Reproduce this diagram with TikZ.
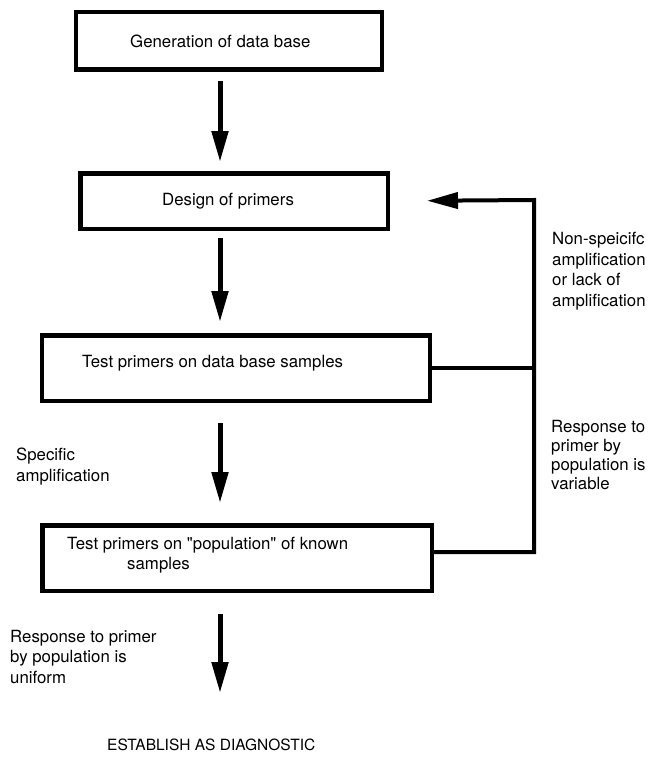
\documentclass[tikz,border=0pt]{standalone}
\usepackage{fontspec}
\setmainfont{TeX Gyre Heros}
\usetikzlibrary{arrows.meta}
\begin{document}
\begin{tikzpicture}[x=1pt,y=-1pt,
  box/.style={draw,line width=4.5pt,inner sep=0pt},
  txt/.style={inner sep=0pt,font=\fontsize{16.8}{20.5}\selectfont,align=left},
  bigarrow/.style={line width=5pt,-{Triangle[width=16pt,length=31pt]}},
  conn/.style={line width=4pt}]
\useasboundingbox (0,0) rectangle (649,760);
% boxes
\node[box,minimum width=306pt,minimum height=57.5pt] (b1) at (229,41) {};
\node[box,minimum width=307.5pt,minimum height=55.5pt] (b2) at (234,201) {};
\node[box,minimum width=388pt,minimum height=65.5pt] (b3) at (236,368) {};
\node[box,minimum width=389.5pt,minimum height=65.5pt] (b4) at (237,558) {};
% box texts
\node[txt,anchor=base west] (t1) at (130,48) {Generation of data base};
\node[txt,anchor=base west] (t2) at (162,205) {Design of primers};
\node[txt,anchor=base west] (t3) at (82,367) {Test primers on data base samples};
\node[txt,anchor=north west,font=\fontsize{16.8}{19.5}\selectfont] (t4) at (67,537) {Test primers on \textquotedbl population\textquotedbl{} of known\\\hspace*{60pt}samples};
% side texts
\node[txt,anchor=north west] (l1) at (16,448) {Specific\\amplification};
\node[txt,anchor=north west] (l2) at (10,630) {Response to primer\\by population is\\uniform};
\node[txt,anchor=north west] (r1) at (552,232) {Non-speicifc\\amplification\\or lack of\\amplification};
\node[txt,anchor=north west,font=\fontsize{16.8}{19}\selectfont] (r2) at (551,420) {Response to\\primer by\\population is\\variable};
\node[txt,anchor=base west,font=\fontsize{15.5}{18}\selectfont] (est) at (107,750) {ESTABLISH AS DIAGNOSTIC};
% main arrows
\coordinate (ax) at (220,0);
\coordinate (e4) at (220,693);
\draw[bigarrow,shorten <=9pt,shorten >=9pt] (b1.south -| ax) -- (b2.north -| ax);
\draw[bigarrow,shorten <=7pt,shorten >=11pt] (b2.south -| ax) -- (b3.north -| ax);
\draw[bigarrow,shorten <=20pt,shorten >=20pt] (b3.south -| ax) -- (b4.north -| ax);
\draw[bigarrow,shorten <=21pt] (b4.south -| ax) -- (e4);
% feedback loop
\coordinate (fr) at (534,200);
\draw[conn] (b3.east) -- (b3.east -| fr);
\draw[conn,-{Triangle[width=16pt,length=31pt]},shorten >=37pt] ([yshift=6pt]b4.east) -| (fr) -- (b2.east);
\end{tikzpicture}
\end{document}
